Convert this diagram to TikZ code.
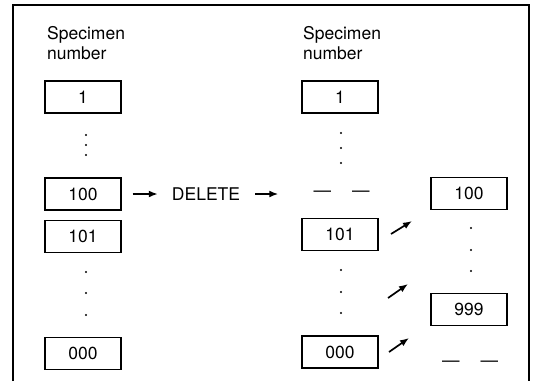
\documentclass[tikz,border=0pt]{standalone}
\usepackage{fontspec}
\setmainfont{TeX Gyre Heros}
\usetikzlibrary{arrows.meta,positioning}
\tikzset{
  spec/box/.style={draw, line width=1.1pt, minimum width=76pt, minimum height=32pt, inner sep=0pt, font=\fontsize{17.5}{20}\selectfont},
  spec/head/.style={anchor=north west, align=left, inner sep=0pt, font=\fontsize{17.5}{20}\selectfont},
  spec/word/.style={inner sep=0pt, font=\fontsize{17.5}{20}\selectfont},
  spec/gap/.style={inner sep=0pt, font=\fontsize{17.5}{20}\selectfont},
  spec/arrow/.style={line width=1.7pt, -{Latex[length=9pt,width=7pt]}},
  spec/frame/.style={line width=1.8pt},
  spec/dot/.style={fill, radius=1.1pt}
}

\begin{document}
\begin{tikzpicture}[x=1pt, y=-1pt]
  \useasboundingbox (0,0) rectangle (534,381);
  \draw[spec/frame] (13,381) -- (13,5) -- (529,5) -- (529,381);

  % old numbering
  \node[spec/head] (headold) at (47,26) {Specimen\\number};
  \node[spec/box] (old1) at (83,97) {1};
  \node[spec/box] (old100) at (83,194) {100};
  \node[spec/box] (old101) at (83,236.5) {101};
  \node[spec/box] (old000) at (83,353.5) {000};

  % new numbering
  \node[spec/head] (headnew) at (303,26) {Specimen\\number};
  \node[spec/box] (new1) at (340,97) {1};
  \node[spec/gap] (newgap) at (341.5,194) {---\hspace{21pt}---};
  \node[spec/box] (new101) at (340,234.5) {101};
  \node[spec/box] (new000) at (340,352) {000};

  \node[spec/box] (new100) at (469,193.5) {100};
  \node[spec/box] (new999) at (469,309.5) {999};
  \node[spec/gap] (endgap) at (470,364) {---\hspace{21pt}---};

  \node[spec/word] (del) at (206,194) {DELETE};

  % dots between boxes
  \foreach \y in {135,145,155} \fill[spec/dot] (86,\y) circle;
  \foreach \y in {272,293,315} \fill[spec/dot] (86,\y) circle;
  \foreach \y in {133,148,163} \fill[spec/dot] (341,\y) circle;
  \foreach \y in {270,292,313} \fill[spec/dot] (341,\y) circle;
  \foreach \y in {228,250,271} \fill[spec/dot] (471,\y) circle;

  \draw[spec/arrow, shorten <=11pt, shorten >=14pt] (old100) -- (del);
  \draw[spec/arrow, shorten <=15pt, shorten >=35pt] (del) -- (newgap);

  % shift up by one
  \coordinate (s1) at (391,234);  \coordinate (e1) at (412,221);
  \coordinate (s2) at (388,298);  \coordinate (e2) at (408,284);
  \coordinate (s3) at (389,352);  \coordinate (e3) at (409,338);
  \draw[spec/arrow] (s1) -- (e1);
  \draw[spec/arrow] (s2) -- (e2);
  \draw[spec/arrow] (s3) -- (e3);
\end{tikzpicture}
\end{document}
